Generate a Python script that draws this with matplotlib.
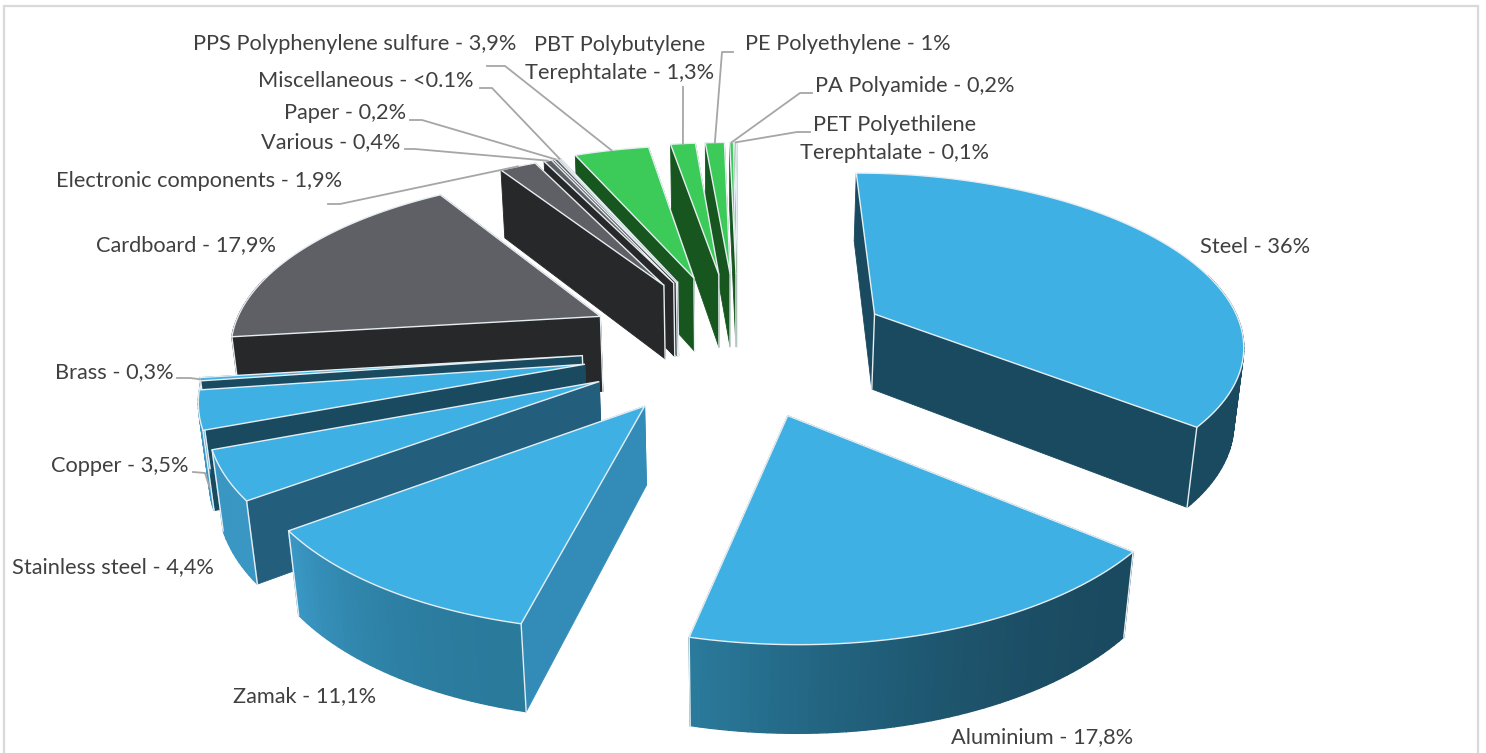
import numpy as np
import matplotlib
matplotlib.use("Agg")
import matplotlib.pyplot as plt
from matplotlib.patches import Polygon, Rectangle

materials = ["Steel", "Aluminium", "Zamak", "Stainless steel", "Copper", "Brass",
             "Cardboard", "Electronic components", "Various", "Paper", "Miscellaneous",
             "PPS Polyphenylene sulfure", "PBT Polybutylene\nTerephtalate", "PE Polyethylene",
             "PA Polyamide", "PET Polyethilene\nTerephtalate"]
shares = [36, 17.8, 11.1, 4.4, 3.5, 0.3, 17.9, 1.9, 0.4, 0.2, 0.1, 3.9, 1.3, 1, 0.2, 0.1]
share_text = ["36%", "17,8%", "11,1%", "4,4%", "3,5%", "0,3%", "17,9%", "1,9%", "0,4%", "0,2%",
              "<0.1%", "3,9%", "1,3%", "1%", "0,2%", "0,1%"]

explode = [0.45, 0.405, 0.40, 0.42, 0.42, 0.42, 0.42, 0.43, 0.43, 0.43, 0.43, 0.44, 0.45, 0.45, 0.45, 0.45]
nudge = [-0.01, 0.015, 0.0, 0.025, 0.02, 0.02, 0.02, 0.02, 0.02, 0.02, 0.02, 0.018, 0.02, 0.02, 0.02, 0.02]

BLUE, GREY, GREEN = "#3EB0E4", "#5F6066", "#3CCB58"
DARK, CHAR, FOREST = "#1A4A60", "#27282A", "#17561F"
tops = [BLUE] * 6 + [GREY] * 5 + [GREEN] * 5
# wall colour of the cut faces, rim start and rim end
walls = [DARK, DARK, "#338CB8", "#235E7C", DARK, DARK] + [CHAR] * 5 + [FOREST] * 5
rim_a = [DARK, DARK, "#2A7A9C", "#3A97C4", "#3A97C4", DARK] + [CHAR] * 5 + [FOREST] * 5
rim_b = [DARK, "#2A7A9C", "#3A97C4", "#3A97C4", "#3A97C4", DARK] + [CHAR] * 5 + [FOREST] * 5

# label centre, and the elbow of the leader if it has one
label_xy = [(1255, 247), (1042, 737), (305, 696), (113, 567), (120, 466), (114, 372), (186, 245),
            (199, 181), (331, 142), (345, 113), (366, 81), (355, 44), (620, 59), (848, 44),
            (915, 86), (895, 139)]
leaders = {5: [(177, 378), (190, 378)], 4: [(193, 472), (205, 473)], 7: [(328, 204), (340, 204)],
           8: [(405, 149), (415, 149)], 9: [(410, 120), (422, 120)], 10: [(480, 88), (492, 88)],
           11: [(487, 66), (505, 66)], 12: [(683, 87)], 13: [(733, 52), (722, 52)],
           14: [(812, 93), (800, 93)], 15: [(810, 132), (797, 132)]}

CX, CY, RX, RY, K, H, ZK = 731, 346, 372, 171, 0.15, 78, 0.02


def project(X, Y, z=0):
    d = 1 + K * Y + ZK * z
    return np.column_stack([CX + RX * X / d, CY - RY * Y / d + H * z / d])


fig = plt.figure(figsize=(14.86, 7.53), dpi=100)
ax = fig.add_axes([0, 0, 1, 1])
ax.set_xlim(0, 1486)
ax.set_ylim(753, 0)
ax.axis("off")
ax.add_patch(Rectangle((3.5, 6), 1474.5, 800, fc="white", ec="#D9D9D9", lw=1.6))

fracs = np.array(shares) / sum(shares)
edges = np.concatenate([[0], np.cumsum(fracs)]) * 2 * np.pi

slices = []
for i in range(len(shares)):
    mid = (edges[i] + edges[i + 1]) / 2
    ox, oy = explode[i] * np.sin(mid) + nudge[i], explode[i] * np.cos(mid)
    th = np.linspace(edges[i], edges[i + 1], max(3, int(fracs[i] * 300)))
    slices.append((i, ox, oy, th, ox + np.sin(th), oy + np.cos(th), mid))

# far slices first
order = sorted(slices, key=lambda s: -(s[2] + s[5].mean()))
EDGE = "#E6EEF2"
rim_points = {}
rim_bottom = {}
for i, ox, oy, th, rx, ry, mid in order:
    apex_x, apex_y = np.array([ox]), np.array([oy])
    # the two cut faces, farther one first
    faces = [(rx[0], ry[0]), (rx[-1], ry[-1])]
    faces.sort(key=lambda p: -p[1])
    for px, py in faces:
        qx, qy = np.array([ox, px]), np.array([oy, py])
        pts = np.vstack([project(qx, qy), project(qx[::-1], qy[::-1], 1)])
        ax.add_patch(Polygon(pts, fc=walls[i], ec=walls[i], lw=0.6, zorder=3))
    # rim in short pieces so the colour can run along it
    ca, cb = matplotlib.colors.to_rgb(rim_a[i]), matplotlib.colors.to_rgb(rim_b[i])
    top, bot = project(rx, ry), project(rx, ry, 1)
    for j in range(len(th) - 1):
        t = (j / max(1, len(th) - 2)) ** 2
        col = tuple(np.array(ca) * (1 - t) + np.array(cb) * t)
        if np.cos((th[j] + th[j + 1]) / 2) < 0.25:
            q = np.vstack([top[j:j + 2], bot[j:j + 2][::-1]])
            ax.add_patch(Polygon(q, fc=col, ec=col, lw=1, zorder=3))
    for p in [0, -1]:
        if np.cos(th[p]) < 0.25:
            ax.plot([top[p, 0], bot[p, 0]], [top[p, 1], bot[p, 1]], color=EDGE, lw=1, zorder=3)
    apex = project(apex_x, apex_y)
    if np.cos(mid) > -0.2:
        apex_low = project(apex_x, apex_y, 1)
        ax.plot([apex[0, 0], apex_low[0, 0]], [apex[0, 1], apex_low[0, 1]], color=EDGE, lw=1, zorder=3)
    # top face
    ax.add_patch(Polygon(np.vstack([apex, top]), fc=tops[i], ec=EDGE, lw=1, zorder=3))
    rim_points[i] = top[len(top) // 2]
    rim_bottom[i] = bot[len(bot) // 2]

for i, (x, y) in enumerate(label_xy):
    ax.text(x, y, f"{materials[i]} - {share_text[i]}", ha="center", va="center", fontsize=15.7,
            family="Lato", color="#404040", linespacing=1.5, zorder=5)

for i, pts in leaders.items():
    end = rim_bottom[i] if i == 4 else rim_points[i]
    xs = [p[0] for p in pts] + [end[0]]
    ys = [p[1] for p in pts] + [end[1]]
    ax.plot(xs, ys, color="#A6A6A6", lw=1.3, zorder=4)

fig.savefig("out.png", dpi=100)
